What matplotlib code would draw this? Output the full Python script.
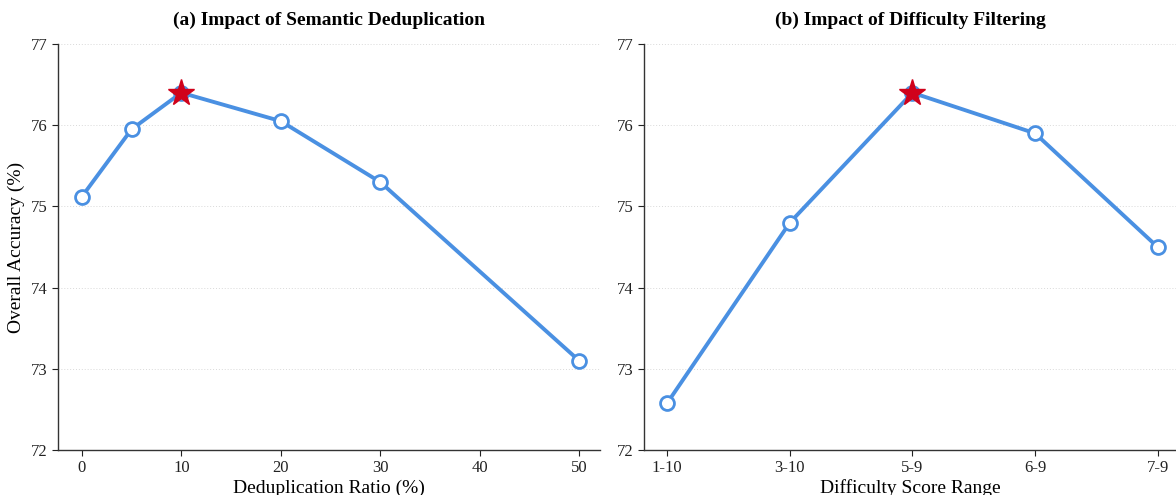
import matplotlib
matplotlib.use("Agg")
import matplotlib.pyplot as plt

plt.rcParams['font.family'] = ['Liberation Serif', 'DejaVu Serif']
plt.rcParams['mathtext.fontset'] = 'stix'

# Data
dedup_ratio = [0, 5, 10, 20, 30, 50]
dedup_acc = [75.12, 75.95, 76.40, 76.05, 75.30, 73.10]
diff_ranges = ["1-10", "3-10", "5-9", "6-9", "7-9"]
diff_acc = [72.58, 74.80, 76.40, 75.90, 74.50]
y_ticks = [72, 73, 74, 75, 76, 77]

line_color = '#4A90E2'
star_color = '#D0021B'

fig = plt.figure(figsize=(11.76, 4.95), dpi=100)
ax1 = fig.add_axes([58/1176, 45/495, 542/1176, 406/495])
ax2 = fig.add_axes([644/1176, 45/495, 532/1176, 406/495])

def style(ax):
    ax.set_ylim(72, 77)
    ax.set_yticks(y_ticks)
    ax.grid(axis='y', linestyle=(0, (1, 2)), color='#d9d9d9', linewidth=0.7)
    ax.set_axisbelow(True)
    for s in ['top', 'right']:
        ax.spines[s].set_visible(False)
    for s in ['left', 'bottom']:
        ax.spines[s].set_color('#333333')
        ax.spines[s].set_linewidth(1.0)
    ax.tick_params(labelsize=12, colors='#222222', length=4)

# Left panel
ax1.plot(dedup_ratio, dedup_acc, color=line_color, linewidth=2.8, marker='o',
         markersize=10, markerfacecolor='white', markeredgecolor=line_color,
         markeredgewidth=2, zorder=3)
ib = dedup_acc.index(max(dedup_acc))
ax1.plot([dedup_ratio[ib]], [dedup_acc[ib]], marker='*', markersize=20,
         color=star_color, markeredgecolor=star_color, linestyle='none', zorder=4)
style(ax1)
ax1.set_xlim(-2.4, 52.1)
ax1.set_xticks([0, 10, 20, 30, 40, 50])
ax1.set_xlabel('Deduplication Ratio (%)', fontsize=14, labelpad=2)
ax1.set_ylabel('Overall Accuracy (%)', fontsize=14)
ax1.set_title('(a) Impact of Semantic Deduplication', fontsize=14, fontweight='bold', pad=14)

# Right panel
xpos = list(range(len(diff_ranges)))
ax2.plot(xpos, diff_acc, color=line_color, linewidth=2.8, marker='o',
         markersize=10, markerfacecolor='white', markeredgecolor=line_color,
         markeredgewidth=2, zorder=3)
ib2 = diff_acc.index(max(diff_acc))
ax2.plot([xpos[ib2]], [diff_acc[ib2]], marker='*', markersize=20,
         color=star_color, markeredgecolor=star_color, linestyle='none', zorder=4)
style(ax2)
ax2.set_xlim(-0.19, 4.15)
ax2.set_xticks(xpos)
ax2.set_xticklabels(diff_ranges)
ax2.set_xlabel('Difficulty Score Range', fontsize=14, labelpad=2)
ax2.set_title('(b) Impact of Difficulty Filtering', fontsize=14, fontweight='bold', pad=14)

fig.savefig('out.png', dpi=100)
